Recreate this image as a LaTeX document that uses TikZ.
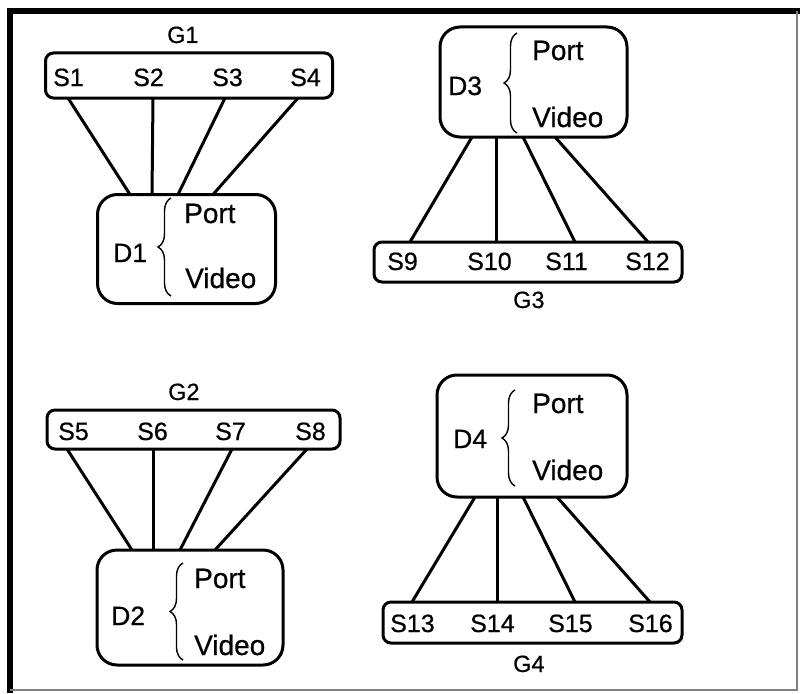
\documentclass[tikz,border=0pt]{standalone}
\usepackage{fontspec}
\setmainfont[FakeBold=0.6]{Liberation Sans}
\usetikzlibrary{decorations.pathreplacing}
\tikzset{
  bar/.style={draw, line width=3pt, rounded corners=8pt, minimum width=#1, inner sep=0pt},
  dev/.style={draw, line width=3pt, rounded corners=20pt, inner sep=0pt},
  lbl/.style={anchor=base west, inner sep=0pt, font=\fontsize{25}{29}\selectfont},
  dlbl/.style={anchor=base west, inner sep=0pt, font=\fontsize{26.5}{30}\selectfont},
  plbl/.style={anchor=base west, inner sep=0pt, font=\fontsize{28}{32}\selectfont},
  glbl/.style={anchor=base west, inner sep=0pt, font=\fontsize{23.5}{27}\selectfont},
  link/.style={line width=3pt},
  brc/.style={decorate, decoration={brace, amplitude=13pt}, line width=1.4pt},
}
\begin{document}
\begin{tikzpicture}[x=1pt,y=-1pt]
\useasboundingbox (0,0) rectangle (800,693);
% outer frame
\draw[line width=5.5pt] (10,693) -- (10,11) -- (800,11);
\draw[gray, line width=1.5pt] (797,11) -- (797,690) -- (10,690);

% ---------- G1 / D1 ----------
\node[bar=287pt, minimum height=45pt] (G1) at (189,75.5) {};
\node[glbl] (G1l) at (167,43) {G1};
\node[lbl] (S1) at (53,86) {S1};
\node[lbl] (S2) at (133,86) {S2};
\node[lbl] (S3) at (212,86) {S3};
\node[lbl] (S4) at (290,86) {S4};
\node[dev, minimum width=178pt, minimum height=109pt] (D1) at (186.5,249) {};
\node[dlbl] (D1l) at (113,262) {D1};
\node[plbl] (P1) at (184,223) {Port};
\node[plbl] (V1) at (185,288) {Video};
\draw[brc] (171,296) -- (171,198);
\coordinate (g1a) at (68,98);  \coordinate (d1a) at (130,194.5);
\coordinate (g1b) at (153,98); \coordinate (d1b) at (152,194.5);
\coordinate (g1c) at (225,98); \coordinate (d1c) at (178,194.5);
\coordinate (g1d) at (298,98); \coordinate (d1d) at (213,194.5);
\draw[link] (g1a) -- (d1a);
\draw[link] (g1b) -- (d1b);
\draw[link] (g1c) -- (d1c);
\draw[link] (g1d) -- (d1d);

% ---------- G3 / D3 ----------
\node[dev, minimum width=187pt, minimum height=110pt] (D3) at (533.5,82) {};
\node[dlbl] (D3l) at (448,95) {D3};
\node[plbl] (P3) at (532,60) {Port};
\node[plbl] (V3) at (532,127) {Video};
\draw[brc] (517,133) -- (517,33);
\node[bar=308pt, minimum height=40pt] (G3) at (528,262) {};
\node[lbl] (S9) at (387,270) {S9};
\node[lbl] (S10) at (467,270) {S10};
\node[lbl] (S11) at (545,270) {S11};
\node[lbl] (S12) at (625,270) {S12};
\node[glbl] (G3l) at (513,308) {G3};
\coordinate (d3a) at (472,137); \coordinate (g3a) at (410,242);
\coordinate (d3b) at (496,137); \coordinate (g3b) at (496,242);
\coordinate (d3c) at (523,137); \coordinate (g3c) at (575,242);
\coordinate (d3d) at (555,137); \coordinate (g3d) at (648,242);
\draw[link] (d3a) -- (g3a);
\draw[link] (d3b) -- (g3b);
\draw[link] (d3c) -- (g3c);
\draw[link] (d3d) -- (g3d);

% ---------- G2 / D2 ----------
\node[bar=293pt, minimum height=39pt] (G2) at (193.5,429.5) {};
\node[glbl] (G2l) at (168,400) {G2};
\node[lbl] (S5) at (58,440) {S5};
\node[lbl] (S6) at (137,440) {S6};
\node[lbl] (S7) at (215,440) {S7};
\node[lbl] (S8) at (295,440) {S8};
\node[dev, minimum width=186pt, minimum height=115pt] (D2) at (190,607.5) {};
\node[dlbl] (D2l) at (111,625) {D2};
\node[plbl] (P2) at (194,588) {Port};
\node[plbl] (V2) at (194,655) {Video};
\draw[brc] (183,660) -- (183,563);
\coordinate (g2a) at (67,449);  \coordinate (d2a) at (132,550);
\coordinate (g2b) at (153,449); \coordinate (d2b) at (153,550);
\coordinate (g2c) at (232,449); \coordinate (d2c) at (180,550);
\coordinate (g2d) at (307,449); \coordinate (d2d) at (215,550);
\draw[link] (g2a) -- (d2a);
\draw[link] (g2b) -- (d2b);
\draw[link] (g2c) -- (d2c);
\draw[link] (g2d) -- (d2d);

% ---------- G4 / D4 ----------
\node[dev, minimum width=190pt, minimum height=122pt] (D4) at (532,436) {};
\node[dlbl] (D4l) at (453,448) {D4};
\node[plbl] (P4) at (532,413) {Port};
\node[plbl] (V4) at (532,480) {Video};
\draw[brc] (515,486) -- (515,390);
\node[bar=299pt, minimum height=41pt] (G4) at (532.5,622.5) {};
\node[lbl] (S13) at (390,632) {S13};
\node[lbl] (S14) at (470,632) {S14};
\node[lbl] (S15) at (548,632) {S15};
\node[lbl] (S16) at (628,632) {S16};
\node[glbl] (G4l) at (513,672) {G4};
\coordinate (d4a) at (475,497); \coordinate (g4a) at (412,602);
\coordinate (d4b) at (497,497); \coordinate (g4b) at (497,602);
\coordinate (d4c) at (523,497); \coordinate (g4c) at (575,602);
\coordinate (d4d) at (557,497); \coordinate (g4d) at (650,602);
\draw[link] (d4a) -- (g4a);
\draw[link] (d4b) -- (g4b);
\draw[link] (d4c) -- (g4c);
\draw[link] (d4d) -- (g4d);
\end{tikzpicture}
\end{document}
